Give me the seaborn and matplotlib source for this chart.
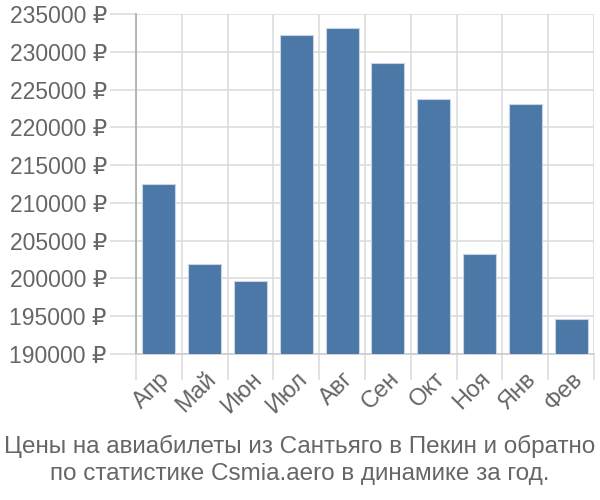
import matplotlib
matplotlib.use("Agg")
import matplotlib.pyplot as plt
import seaborn as sns
import pandas as pd
from matplotlib.ticker import FuncFormatter, FixedLocator

months = ["Апр", "Май", "Июн", "Июл", "Авг", "Сен", "Окт", "Ноя", "Янв", "Фев"]
prices = [212500, 201900, 199600, 232200, 233150, 228450, 223700, 203300, 223150, 194600]
yticks = [190000, 195000, 200000, 205000, 210000, 215000, 220000, 225000, 230000, 235000]
title = "Цены на авиабилеты из Сантьяго в Пекин и обратно\nпо статистике Csmia.aero в динамике за год."

sns.set_theme(style="white")
plt.rcParams["font.family"] = ["Liberation Sans", "DejaVu Sans"]

df = pd.DataFrame({"month": months, "price": prices})

fig = plt.figure(figsize=(6, 5), dpi=100)
ax = fig.add_axes([136/600, 1-354/500, (594-136)/600, (354-14)/500])

sns.barplot(data=df, x="month", y="price", ax=ax, color="#4c78a8", saturation=1,
            width=0.72, edgecolor="#c8d4e3", linewidth=0.8, zorder=3)

ax.set_ylim(190000, 235000)
ax.set_xlim(-0.5, len(months) - 0.5)
ax.yaxis.set_major_locator(FixedLocator(yticks))
ax.yaxis.set_major_formatter(FuncFormatter(lambda v, p: f"{int(v)} ₽"))

# vertical grid at category boundaries
bounds = [i - 0.5 for i in range(len(months) + 1)]
ax.set_xticks(bounds, minor=True)
ax.set_xticks(range(len(months)))
ax.set_xticklabels(months, rotation=45, ha="right", rotation_mode="anchor")
ax.grid(True, axis="y", color="#dddddd", linewidth=1.2, zorder=0)
ax.grid(True, axis="x", which="minor", color="#dddddd", linewidth=1.2, zorder=0)
ax.grid(False, axis="x", which="major")

ax.tick_params(axis="x", which="major", bottom=True, length=0, pad=10, labelsize=17, labelcolor="#666666")
ax.tick_params(axis="x", which="minor", bottom=True, length=19, color="#dddddd", width=1.2)
ax.tick_params(axis="y", which="major", left=True, length=19, color="#dddddd", width=1.2,
               labelsize=16.5, labelcolor="#666666", pad=2)

for s in ["top", "right"]:
    ax.spines[s].set_visible(False)
ax.spines["left"].set_color("#aaaaaa")
ax.spines["bottom"].set_color("#cccccc")
ax.spines["left"].set_linewidth(1.2)
ax.spines["bottom"].set_linewidth(1.2)
ax.set_xlabel("")
ax.set_ylabel("")

fig.text(0.5, 1 - 460/500, title, ha="center", va="center", fontsize=17.5,
         color="#666666", linespacing=1.3)

fig.savefig("out.png", dpi=100)
